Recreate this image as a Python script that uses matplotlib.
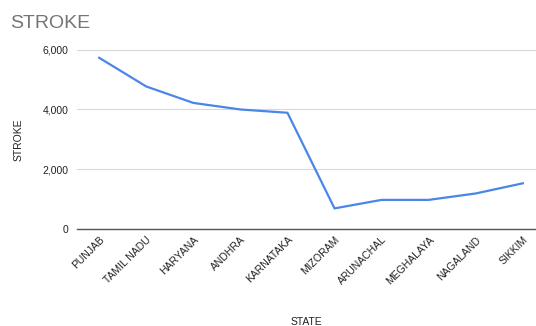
import matplotlib.pyplot as plt
from matplotlib.ticker import FuncFormatter

plt.rcParams['font.family'] = ['Liberation Sans', 'DejaVu Sans']

states = ['PUNJAB', 'TAMIL NADU', 'HARYANA', 'ANDHRA', 'KARNATAKA',
          'MIZORAM', 'ARUNACHAL', 'MEGHALAYA', 'NAGALAND', 'SIKKIM']
stroke = [5730, 4770, 4220, 4000, 3890, 690, 975, 975, 1190, 1530]
yticks = [0, 2000, 4000, 6000]

fig = plt.figure(figsize=(5.36, 3.26), dpi=100)
ax = fig.add_axes([0.144, 0.2975, 0.856, 0.55])

x = list(range(len(states)))
ax.plot(x, stroke, color='#4a86e8', linewidth=1.6, clip_on=False, zorder=3)

ax.set_xlim(-0.467, 9.28)
ax.set_ylim(0, 6000)
ax.set_yticks(yticks)
ax.yaxis.set_major_formatter(FuncFormatter(lambda v, p: f'{int(v):,}'))
ax.grid(axis='y', color='#d9d9d9', linewidth=0.8)
ax.set_axisbelow(True)
for s in ['top', 'right', 'left']:
    ax.spines[s].set_visible(False)
ax.spines['bottom'].set_color('#555555')
ax.spines['bottom'].set_linewidth(1.0)
ax.tick_params(axis='both', length=0, labelsize=7.5, colors='#222222', pad=6)
ax.set_xticks(x)
ax.set_xticklabels(states, rotation=45, ha='right', rotation_mode='anchor')
ax.tick_params(axis='x', pad=4)
# top gridline not clipped
ax.axhline(6000, color='#d9d9d9', linewidth=0.8, clip_on=False, zorder=0)

ax.set_ylabel('STROKE', fontsize=7.5, color='#222222', labelpad=14)
ax.set_xlabel('STATE', fontsize=7.5, color='#222222', labelpad=22)
fig.text(0.019, 0.915, 'STROKE', fontsize=14, color='#757575')

fig.savefig('out.png', dpi=100)
